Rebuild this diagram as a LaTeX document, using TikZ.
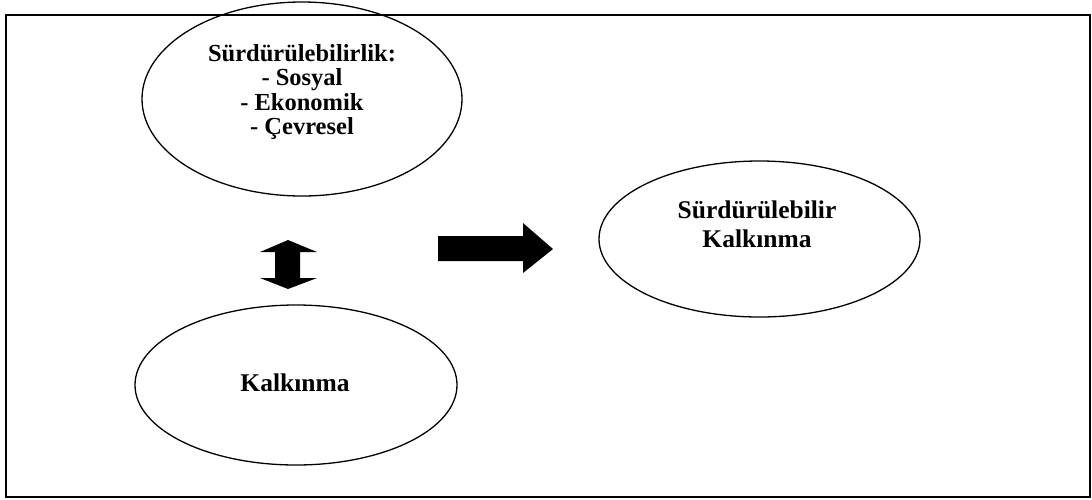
\documentclass[tikz,border=0pt]{standalone}
\usepackage{fontspec}
\setmainfont{Liberation Serif}
\usetikzlibrary{shapes.geometric}
\begin{document}
\begin{tikzpicture}[x=1pt,y=-1pt,
  frame/.style={draw=black,line width=1.6pt},
  oval/.style={draw=black,line width=1.3pt,ellipse,inner sep=0pt},
  label/.style={font=\bfseries\fontsize{24.5}{24.5}\selectfont,align=center,inner sep=0pt},
  blockarrow/.style={fill=black,draw=none}]
  \useasboundingbox (0,0) rectangle (1092,499);
  % outer frame
  \draw[frame] (6,15) rectangle (1090,497);

  % ovals
  \node[oval,minimum width=320pt,minimum height=194pt] (dims) at (302,99) {};
  \node[oval,minimum width=322pt,minimum height=160pt] (dev) at (296,385) {};
  \node[oval,minimum width=321pt,minimum height=156pt] (sdev) at (759.5,239) {};

  % texts
  \node[label] (dimstext) at (302,92) {Sürdürülebilirlik:\\- Sosyal\\- Ekonomik\\- Çevresel};
  \node[label,font=\bfseries\fontsize{25.5}{25.5}\selectfont] (devtext) at (295,383) {Kalkınma};
  \node[label,font=\bfseries\fontsize{25.5}{29}\selectfont] (sdevtext) at (757,224) {Sürdürülebilir\\Kalkınma};

  % vertical double block arrow
  \fill[blockarrow] (288,240) -- (317,252) -- (300,252) -- (300,278) -- (317,278)
    -- (288,289) -- (260,278) -- (275,278) -- (275,252) -- (260,252) -- cycle;
  % right block arrow
  \fill[blockarrow] (438,236) -- (523,236) -- (523,223) -- (553,249) -- (523,273)
    -- (523,261) -- (438,261) -- cycle;
\end{tikzpicture}
\end{document}
